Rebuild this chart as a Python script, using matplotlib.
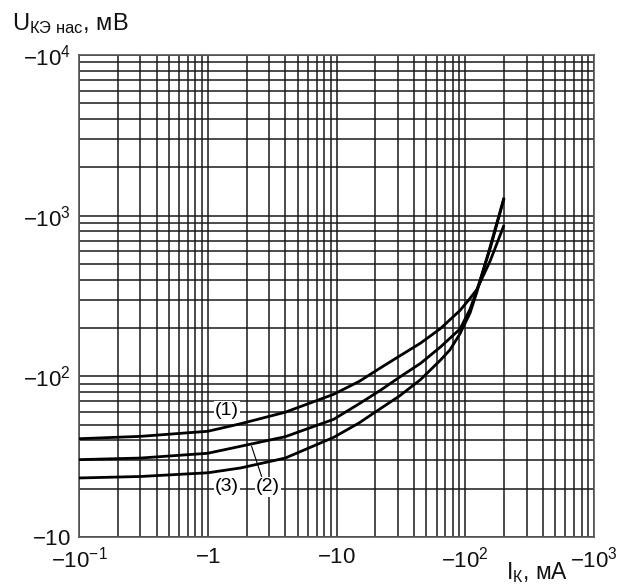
import matplotlib
matplotlib.use('Agg')
import matplotlib.pyplot as plt
import numpy as np
from matplotlib.ticker import LogLocator, NullFormatter

plt.rcParams['font.family'] = ['Liberation Sans', 'DejaVu Sans']
plt.rcParams['mathtext.fontset'] = 'custom'
plt.rcParams['mathtext.rm'] = 'Liberation Sans'
plt.rcParams['mathtext.it'] = 'Liberation Sans:italic'
plt.rcParams['mathtext.bf'] = 'Liberation Sans:bold'

# ---- data (collector current, mA ; saturation voltage, mV; magnitudes) ----
current_1 = [0.1, 0.3, 1, 1.8, 4, 9.5, 15, 22, 31, 45, 64, 91, 109, 123, 156, 200]
voltage_1 = [40.9, 42.3, 45.5, 50.7, 59.8, 77.3, 93, 113, 134, 161, 198, 257, 306, 347, 522, 873]

current_2 = [0.1, 0.3, 1, 1.8, 4, 9.5, 15, 22, 31, 45, 64, 91, 109, 123, 156, 200]
voltage_2 = [30.3, 31.0, 33.2, 36.7, 42.1, 54.0, 67.5, 82, 99, 120.5, 152, 197, 262, 343, 622, 1277]

current_3 = [0.1, 0.3, 1, 1.8, 4, 9.5, 15, 19, 31, 45, 64, 76, 91, 109, 123, 156, 200]
voltage_3 = [23.3, 23.8, 25.1, 26.9, 31.0, 41.7, 51.3, 58.3, 75.7, 95.5, 125.9, 146, 184, 248, 334, 640, 1296]

x_ticks = [0.1, 1, 10, 100, 1000]
x_tick_labels = [r'$-10^{-1}$', r'$-1$', r'$-10$', r'$-10^{2}$', r'$-10^{3}$']
y_ticks = [10, 100, 1000, 10000]
y_tick_labels = [r'$-10$', r'$-10^{2}$', r'$-10^{3}$', r'$-10^{4}$']

curve_labels = ['(1)', '(2)', '(3)']
label_pos = [(1.41, 61), (2.94, 20.5), (1.41, 20.5)]
leader_2 = ([2.62, 2.19], [23.8, 36.7])

# ---- figure ----
W, H = 618, 585
fig = plt.figure(figsize=(W / 100, H / 100), dpi=100)
ax = fig.add_axes([79 / W, 1 - 537 / H, (594 - 79) / W, (537 - 55) / H])
ax.set_xscale('log')
ax.set_yscale('log')
ax.set_xlim(0.1, 1000)
ax.set_ylim(10, 10000)

ax.set_xticks(x_ticks)
ax.set_xticklabels(x_tick_labels)
ax.set_yticks(y_ticks)
ax.set_yticklabels(y_tick_labels)
for axis in (ax.xaxis, ax.yaxis):
    axis.set_minor_locator(LogLocator(base=10, subs=np.arange(2, 10)))
    axis.set_minor_formatter(NullFormatter())
ax.tick_params(which='both', length=0, labelsize=16, colors='#111111')
ax.tick_params(axis='x', pad=7)
ax.tick_params(axis='y', pad=6)
ax.grid(which='both', color='#1a1a1a', linewidth=1.1)
for s in ax.spines.values():
    s.set_color('#555555')
    s.set_linewidth(1.2)

for cx, cy in ((current_1, voltage_1), (current_2, voltage_2), (current_3, voltage_3)):
    ax.plot(cx, cy, color='black', linewidth=2.0, solid_capstyle='butt',
            solid_joinstyle='round', zorder=3)

for txt, (lx, ly) in zip(curve_labels, label_pos):
    ax.text(lx, ly, txt, fontsize=14, ha='center', va='center', zorder=4,
            bbox=dict(facecolor='white', edgecolor='none', pad=1.0))
ax.plot(leader_2[0], leader_2[1], color='black', linewidth=0.8, zorder=3)

fig.text(12 / W, 1 - 30 / H, r'U$_{\mathregular{КЭ\ нас}}$, мВ', fontsize=17,
         ha='left', va='baseline', color='#111111')
fig.text(506 / W, 1 - 579 / H, r'I$_{\mathregular{К}}$, мА', fontsize=16.5,
         ha='left', va='baseline', color='#111111')

fig.savefig('out.png', dpi=100)
